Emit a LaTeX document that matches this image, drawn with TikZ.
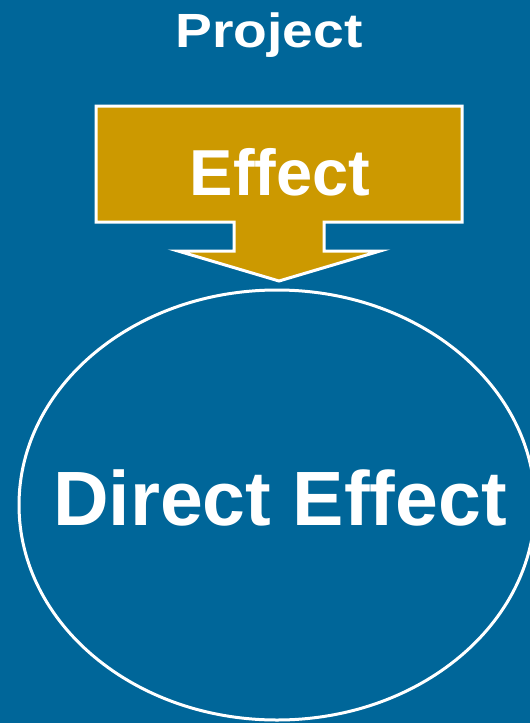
\documentclass[tikz,border=0pt]{standalone}
\usepackage{fontspec}
\setmainfont{Liberation Sans}
\usetikzlibrary{shapes.geometric}
\definecolor{bgblue}{HTML}{006699}
\definecolor{gold}{HTML}{CC9900}
\tikzset{
  lbl/.style={text=white, font=\bfseries, inner sep=0pt, anchor=base},
  outline/.style={draw=white, line width=3pt},
}
\begin{document}
\begin{tikzpicture}[x=1pt,y=-1pt]
\fill[bgblue] (0,0) rectangle (530,723);
\useasboundingbox (0,0) rectangle (530,723);
% callout arrow
\draw[outline, fill=gold, line join=miter]
  (96,106) -- (462,106) -- (462,222) -- (324,222) -- (324,251) -- (380,251)
  -- (279,281) -- (178,251) -- (234,251) -- (234,222) -- (96,222) -- cycle;
% ellipse
\node[outline, ellipse, minimum width=516pt, minimum height=430pt, inner sep=0pt] (de) at (277,505) {};
\node[lbl, font=\bfseries\fontsize{77}{80}\selectfont] (detext) at (280,525) {Direct Effect};
\node[lbl, font=\bfseries\fontsize{65}{68}\selectfont] (eff) at (280,195) {Effect};
\node[lbl, font=\bfseries\fontsize{48}{50}\selectfont] (proj) at (269,47) {\scalebox{1.15}[1]{Project}};
\end{tikzpicture}
\end{document}
